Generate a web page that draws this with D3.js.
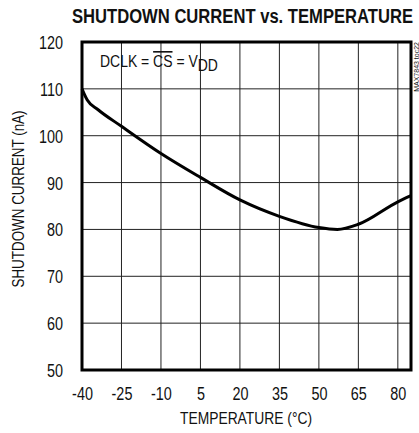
<!DOCTYPE html>
<html lang="en">
<head>
<meta charset="UTF-8">
<script src="https://cdnjs.cloudflare.com/ajax/libs/d3/7.8.5/d3.min.js"></script>
<style>
body { margin: 0; background: white; }
svg { display: block; }
text { font-family: "Liberation Sans", Arial, sans-serif; fill: #111; }
</style>
</head>
<body>
<script>
// curve: temperature (°C) vs shutdown current (nA)
var temps    = [-40, -39, -38, -34, -25, -10, 5, 20, 35, 50, 57, 65, 80, 85];
var currents = [110, 108.7, 107.6, 105.6, 102.0, 96.2, 91.1, 86.3, 82.8, 80.4, 80.0, 81.1, 85.9, 87.2];
var xTicks = [-40, -25, -10, 5, 20, 35, 50, 65, 80];
var yTicks = [50, 60, 70, 80, 90, 100, 110, 120];

var W = 419, H = 433;
var margin = {top: 42, right: 8, bottom: 63, left: 82},
    width = W - margin.left - margin.right,
    height = H - margin.top - margin.bottom;

var x = d3.scaleLinear().domain([-40, 85]).range([0, width]);
var y = d3.scaleLinear().domain([50, 120]).range([height, 0]);

// the original uses a condensed face; squeeze the glyphs horizontally
function narrow(sel, k) {
  sel.each(function() {
    var L = this.getComputedTextLength();
    d3.select(this).attr("textLength", L * k).attr("lengthAdjust", "spacingAndGlyphs");
  });
}

var svg = d3.select("body").append("svg")
    .attr("width", W).attr("height", H);

svg.append("text")
    .attr("x", 72).attr("y", 23)
    .attr("textLength", 341).attr("lengthAdjust", "spacingAndGlyphs")
    .style("font-size", "20px").style("font-weight", "bold")
    .text("SHUTDOWN CURRENT vs. TEMPERATURE");

var g = svg.append("g")
    .attr("transform", "translate(" + margin.left + "," + margin.top + ")");

// grid
g.selectAll(".vgrid").data(xTicks.slice(1)).enter().append("line")
    .attr("x1", d => x(d)).attr("x2", d => x(d))
    .attr("y1", 0).attr("y2", height)
    .attr("stroke", "#222").attr("stroke-width", 1);
g.selectAll(".hgrid").data(yTicks.slice(1, -1)).enter().append("line")
    .attr("x1", 0).attr("x2", width)
    .attr("y1", d => y(d)).attr("y2", d => y(d))
    .attr("stroke", "#222").attr("stroke-width", 1);

// axes labels (no tick lines), plain hyphen minus like the original
var xAxis = d3.axisBottom(x).tickValues(xTicks).tickSize(0).tickPadding(17).tickFormat(d => String(d));
var yAxis = d3.axisLeft(y).tickValues(yTicks).tickSize(0).tickPadding(19).tickFormat(d => String(d));
var xg = g.append("g").attr("transform", "translate(0," + height + ")").call(xAxis);
var yg = g.append("g").call(yAxis);
[xg, yg].forEach(a => {
  a.select(".domain").remove();
  a.selectAll("text").style("font-size", "18px").style("font-family", null).attr("fill", "#111");
  narrow(a.selectAll("text"), 0.8);
});
yg.selectAll("text").attr("dy", "0.36em");

// curve
var line = d3.line()
    .x((d, i) => x(temps[i]))
    .y(d => y(d))
    .curve(d3.curveMonotoneX);
g.append("path")
    .datum(currents)
    .attr("fill", "none").attr("stroke", "#000").attr("stroke-width", 3)
    .attr("stroke-linejoin", "round")
    .attr("d", line);

// frame
g.append("rect")
    .attr("width", width).attr("height", height)
    .attr("fill", "none").attr("stroke", "#000").attr("stroke-width", 3);

// annotation
var ann = g.append("text").style("font-size", "16px");
ann.append("tspan").text("DCLK = ");
ann.append("tspan").style("text-decoration", "overline").text("CS");
ann.append("tspan").text(" = V");
ann.append("tspan").attr("dy", 4).style("font-size", "16px").text("DD");
var aw = ann.node().getBBox().width;
ann.attr("transform", "translate(18,25) scale(" + (118 / aw) + ",1)");

// axis titles
svg.append("text")
    .attr("x", 246).attr("y", 424)
    .attr("text-anchor", "middle").style("font-size", "16px")
    .attr("textLength", 132).attr("lengthAdjust", "spacingAndGlyphs")
    .text("TEMPERATURE (\u00B0C)");
svg.append("text")
    .attr("transform", "translate(24,199) rotate(-90)")
    .attr("text-anchor", "middle").style("font-size", "16px")
    .attr("textLength", 177).attr("lengthAdjust", "spacingAndGlyphs")
    .text("SHUTDOWN CURRENT (nA)");

// part watermark
svg.append("text")
    .attr("transform", "translate(419,42) rotate(-90)")
    .attr("text-anchor", "end").style("font-size", "7px")
    .text("MAX7843 toc22");
</script>
</body>
</html>
